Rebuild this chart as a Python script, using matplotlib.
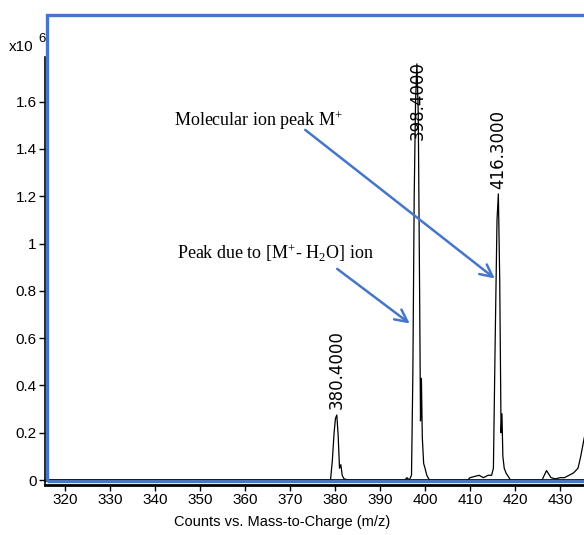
import matplotlib
matplotlib.use('Agg')
import matplotlib.pyplot as plt
from matplotlib.patches import Rectangle

# spectrum trace (m/z, counts in units of 1e6)
mz = [315.5, 379.0, 379.4, 379.8, 380.1, 380.4, 380.7, 381.0, 381.3, 381.6, 382.0, 383.0,
      395.5, 396.0, 396.5, 397.0, 397.3, 397.6, 397.9, 398.2, 398.5, 398.8, 399.0, 399.2,
      399.4, 399.7, 400.0, 400.4, 401.0, 409.5, 410.0, 411.0, 412.0, 413.0, 414.0, 414.8,
      415.2, 415.6, 416.0, 416.3, 416.6, 416.9, 417.1, 417.3, 417.6, 418.0, 419.0,
      426.0, 427.0, 428.0, 429.0, 430.0, 431.0, 432.0, 433.0, 434.0, 434.6, 435.4]
counts = [0.0, 0.0, 0.08, 0.2, 0.26, 0.275, 0.19, 0.05, 0.065, 0.02, 0.005, 0.0,
          0.0, 0.01, 0.0, 0.02, 0.45, 1.2, 1.6, 1.76, 1.55, 0.8, 0.25, 0.43,
          0.18, 0.07, 0.05, 0.02, 0.0, 0.0, 0.01, 0.015, 0.02, 0.01, 0.02, 0.02,
          0.05, 0.6, 1.1, 1.21, 0.85, 0.2, 0.28, 0.1, 0.05, 0.03, 0.0,
          0.0, 0.04, 0.01, 0.005, 0.01, 0.01, 0.02, 0.03, 0.05, 0.1, 0.18]

# labelled peaks
peak_mz = [380.4, 398.4, 416.3]
peak_text = ['380.4000', '398.4000', '416.3000']
label_y = [0.30, 1.44, 1.23]

xticks = list(range(320, 431, 10))
yticks = [0, 0.2, 0.4, 0.6, 0.8, 1.0, 1.2, 1.4, 1.6]

blue = '#4576c8'
sans = 'Liberation Sans'

plt.rcParams['mathtext.fontset'] = 'custom'
plt.rcParams['mathtext.rm'] = 'Liberation Serif'
plt.rcParams['mathtext.it'] = 'Liberation Serif'

fig = plt.figure(figsize=(5.84, 5.35), dpi=100)
ax = fig.add_axes([45 / 584, 1 - 485 / 535, 1 - 45 / 584, 428 / 535])

ax.plot(mz, counts, color='black', lw=0.9)
ax.axhline(0, color='black', lw=2.0)

for x, y, t in zip(peak_mz, label_y, peak_text):
    ax.text(x, y, t, rotation=90, ha='center', va='bottom', fontsize=12,
            family='DejaVu Sans')

ax.set_xlim(315.56, 435.33)
ax.set_ylim(-0.021, 1.789)
ax.set_xticks(xticks)
ax.set_yticks(yticks)
ax.set_yticklabels(['%g' % v for v in yticks])
for s in ['top', 'right']:
    ax.spines[s].set_visible(False)
ax.spines['left'].set_linewidth(1.2)
ax.spines['bottom'].set_linewidth(2.0)
ax.tick_params(length=4, width=1, pad=2, labelsize=11)
for lab in ax.get_xticklabels() + ax.get_yticklabels():
    lab.set_family(sans)

# annotations
ax.annotate('', xy=(416.0, 0.845), xytext=(372.9, 1.488),
            arrowprops=dict(arrowstyle='->', color=blue, lw=1.8, mutation_scale=22))
ax.annotate('', xy=(397.1, 0.655), xytext=(380.0, 0.90),
            arrowprops=dict(arrowstyle='->', color=blue, lw=1.8, mutation_scale=22))
ax.text(344.2, 1.518, 'Molecular ion peak M$^{+}$', ha='left', va='center',
        fontsize=13, family='Liberation Serif')
ax.text(344.9, 0.96, 'Peak due to [M$^{+}$- H$_{2}$O] ion', ha='left', va='center',
        fontsize=13, family='Liberation Serif')

fig.text(282 / 584, 1 - 522 / 535, 'Counts vs. Mass-to-Charge (m/z)', ha='center',
         va='center', fontsize=10.5, family=sans)
fig.text(9 / 584, 1 - 47 / 535, 'x10', ha='left', va='center', fontsize=11, family=sans)
fig.text(38 / 584, 1 - 39 / 535, '6', ha='left', va='center', fontsize=9.5, family=sans)

# blue frame
fig.patches.append(Rectangle((47 / 584, 1 - 481 / 535), 1.0, 466 / 535,
                             transform=fig.transFigure, fill=False,
                             edgecolor=blue, lw=2.4, clip_on=False))

fig.savefig('out.png', dpi=100)
